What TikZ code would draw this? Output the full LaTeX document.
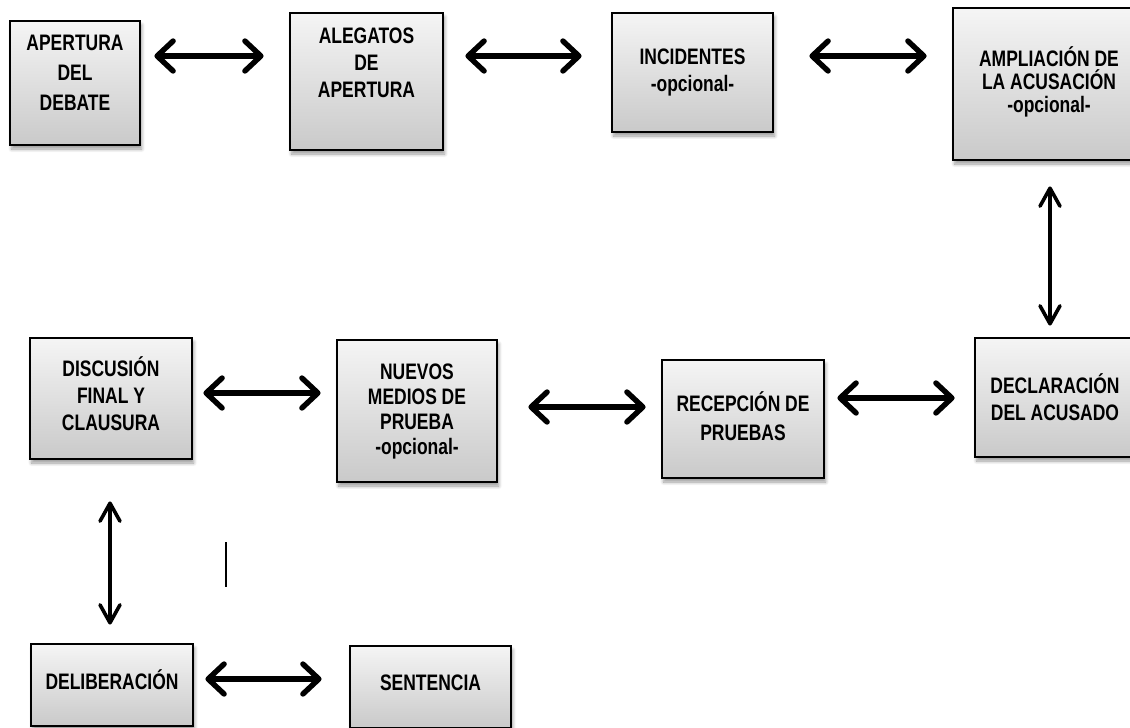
\documentclass[tikz,border=0pt]{standalone}
\usepackage{fontspec}
\usetikzlibrary{arrows.meta,shadows.blur}
\newfontfamily\cajafont[FakeStretch=0.78]{Liberation Sans}

\tikzset{
  caja/.style={rectangle, draw=black, line width=1.4pt, inner sep=0pt,
    top color=gray!8, bottom color=gray!42,
    blur shadow={shadow xshift=0.8pt, shadow yshift=-2pt, shadow blur steps=6, shadow opacity=40},
    align=center, font=\cajafont\bfseries\fontsize{11.2}{13.5}\selectfont},
  flecha/.style={line width=2.7pt, line cap=round,
    {Straight Barb[length=8pt,width=15pt,round]}-{Straight Barb[length=8pt,width=15pt,round]}},
  flechav/.style={line width=1.8pt, line cap=round,
    {Straight Barb[length=9pt,width=10pt,round]}-{Straight Barb[length=9pt,width=10pt,round]}}
}

\begin{document}
\begin{tikzpicture}[x=0.5pt, y=-0.5pt]
        \useasboundingbox (0,0) rectangle (1130,728);

        % Las cajas
        \node (apertura) [caja, minimum width=65pt, minimum height=62pt] at (75,83) {APERTURA\\[1.5pt]DEL\\[1.5pt]DEBATE\\[-3.5pt]};
        \node (alegatos) [caja, minimum width=76.5pt, minimum height=68.5pt] at (366.5,81.5) {ALEGATOS\\DE\\APERTURA\\[5pt]};
        \node (incidentes) [caja, minimum width=80.5pt, minimum height=59.5pt] at (692.5,72.5) {INCIDENTES\\-opcional-};
        \node (ampliacion) [caja, minimum width=96pt, minimum height=76pt] at (1049,84) {\\[-6pt]AMPLIACIÓN DE\\[-2pt]LA ACUSACIÓN\\[-2pt]-opcional-};
        \node (declaracion) [caja, minimum width=80pt, minimum height=59.5pt] at (1055,397.5) {DECLARACIÓN\\DEL ACUSADO};
        \node (recepcion) [caja, minimum width=81pt, minimum height=59pt] at (743,419) {\\[-6pt]RECEPCIÓN DE\\[1pt]PRUEBAS};
        \node (nuevos) [caja, minimum width=80pt, minimum height=71pt] at (417,411) {NUEVOS\\[-1pt]MEDIOS DE\\[-1pt]PRUEBA\\[-1pt]-opcional-};
        \node (discusion) [caja, minimum width=81pt, minimum height=60.5pt] at (111,398.5) {\\[-8pt]DISCUSIÓN\\FINAL Y\\CLAUSURA};
        \node (deliberacion) [caja, minimum width=81pt, minimum height=41pt] at (112,685) {\\[-9pt]DELIBERACIÓN};
        \node (sentencia) [caja, minimum width=80.5pt, minimum height=41pt] at (430.5,687) {\\[-10pt]SENTENCIA};

        % Las flechas
        \draw [flecha, shorten <=6.5pt, shorten >=12.5pt] ([yshift=13.5pt]apertura.east) -- ([yshift=12.75pt]alegatos.west);
        \draw [flecha, shorten <=10.5pt, shorten >=14.5pt] ([yshift=12.75pt]alegatos.east) -- ([yshift=8.25pt]incidentes.west);
        \draw [flecha, shorten <=17.5pt, shorten >=12.5pt] ([yshift=8.25pt]incidentes.east) -- ([yshift=14pt]ampliacion.west);
        \draw [flechav, shorten <=12.5pt, shorten >=5.5pt] ([xshift=0.5pt]ampliacion.south) -- ([xshift=-2.5pt]declaracion.north);
        \draw [flecha, shorten <=6pt, shorten >=9.5pt] ([yshift=10.5pt]recepcion.east) -- ([yshift=-0.25pt]declaracion.west);
        \draw [flecha, shorten <=15pt, shorten >=7.5pt] ([yshift=2pt]nuevos.east) -- ([yshift=6pt]recepcion.west);
        \draw [flecha, shorten <=5pt, shorten >=7.5pt] ([yshift=2.75pt]discusion.east) -- ([yshift=9pt]nuevos.west);
        \draw [flechav, shorten <=20.5pt, shorten >=9pt] ([xshift=-0.5pt]discusion.south) -- ([xshift=-1pt]deliberacion.north);
        \draw [flecha, shorten <=5.5pt, shorten >=13.5pt] ([yshift=3pt]deliberacion.east) -- ([yshift=4pt]sentencia.west);

        % La raya suelta
        \coordinate (raya1) at (226,542);
        \coordinate (raya2) at (226,587);
        \draw [line width=1pt] (raya1) -- (raya2);
    \end{tikzpicture}
\end{document}
